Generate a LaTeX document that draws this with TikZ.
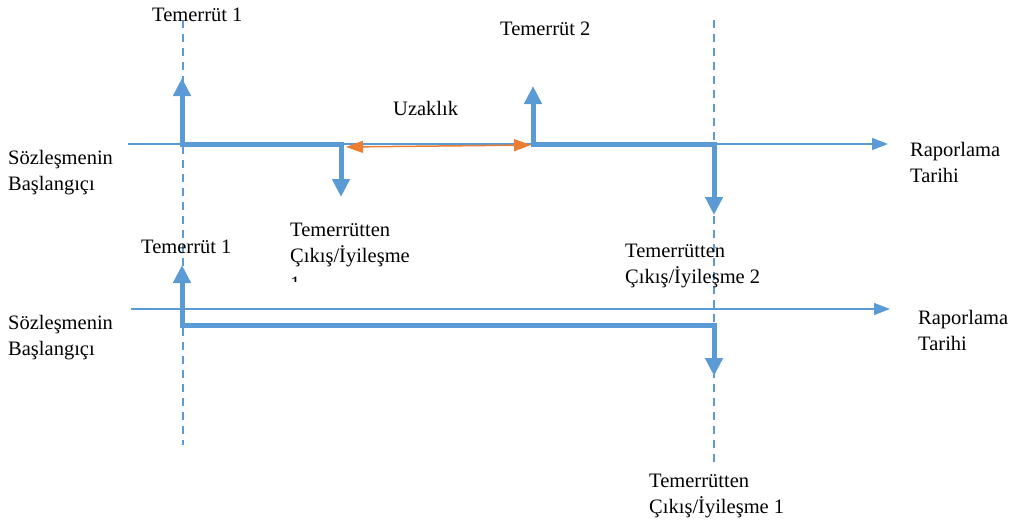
\documentclass[tikz,border=0pt]{standalone}
\usepackage{fontspec}
\setmainfont{Liberation Serif}
\usetikzlibrary{arrows.meta}
\definecolor{oblue}{HTML}{5B9BD5}
\definecolor{oorange}{HTML}{ED7D31}
\begin{document}
\begin{tikzpicture}[x=1pt,y=-1pt,
  lbl/.style={anchor=base west,inner sep=0pt,align=left,font=\fontsize{20.5}{26}\selectfont},
  axisline/.style={draw=oblue,line width=1.3pt,-{Triangle[width=12pt,length=16pt]}},
  guide/.style={draw=oblue,line width=1.3pt,dash pattern=on 8pt off 6pt},
  thick path/.style={draw=oblue,line width=5pt},
  thick arrow/.style={draw=oblue,line width=5pt,-{Triangle[width=17pt,length=18pt]}},
  gap/.style={draw=oorange,line width=1.5pt,{Triangle[width=12pt,length=17pt]}-{Triangle[width=12pt,length=17pt]}}]
\useasboundingbox (0,0) rectangle (1016,525);
% coordinates
\coordinate (g1t) at (183,20);  \coordinate (g1b) at (183,445);
\coordinate (g2t) at (714,20);  \coordinate (g2b) at (714,462);
\coordinate (a1s) at (128,144);  \coordinate (a1e) at (888,144);
\coordinate (a2s) at (131,309);  \coordinate (a2e) at (890,309);
\coordinate (p1) at (182,144); \coordinate (p1u) at (182,78);
\coordinate (p2) at (341,144); \coordinate (p2d) at (341,197);
\coordinate (p3) at (533,144); \coordinate (p3u) at (533,86);
\coordinate (p4) at (714,144); \coordinate (p4d) at (714,215);
\coordinate (o1) at (346,147); \coordinate (o2) at (531,145);
\coordinate (q1) at (182,325); \coordinate (q1u) at (182,265);
\coordinate (q2) at (714,325); \coordinate (q2d) at (714,376);
% guides and axes
\draw[guide] (g1t) -- (g1b);
\draw[guide] (g2t) -- (g2b);
\draw[axisline] (a1s) -- (a1e);
\draw[axisline] (a2s) -- (a2e);
% top panel
\draw[thick arrow] ([yshift=2.5pt]p1) -- (p1u);
\draw[thick path,line cap=rect] (p1) -- (p2);
\draw[thick arrow] ([yshift=-2.5pt]p2) -- (p2d);
\draw[gap] (o1) -- (o2);
\draw[thick arrow] ([yshift=2.5pt]p3) -- (p3u);
\draw[thick path,line cap=rect] (p3) -- (p4);
\draw[thick arrow] ([yshift=-2.5pt]p4) -- (p4d);
% bottom panel
\draw[thick arrow] ([yshift=2.5pt]q1) -- (q1u);
\draw[thick path,line cap=rect] (q1) -- (q2);
\draw[thick arrow] ([yshift=-2.5pt]q2) -- (q2d);
% labels
\node[lbl] (t1a) at (152,21) {Temerrüt 1};
\node[lbl] (t2) at (500,35) {Temerrüt 2};
\node[lbl] (uz) at (393,115) {Uzaklık};
\node[lbl] (sb1) at (8,190) {Sözleşmenin\\Başlangıçı};
\node[lbl] (rt1) at (910,182) {Raporlama\\Tarihi};
\node[lbl] (tc1) at (290,262) {Temerrütten\\Çıkış/İyileşme};
\begin{scope}
\clip (285,270) rectangle (320,281);
\node[lbl] (tc1n) at (290,290) {1};
\end{scope}
\node[lbl] (t1b) at (141,253) {Temerrüt 1};
\node[lbl] (tc2) at (625,283) {Temerrütten\\Çıkış/İyileşme 2};
\node[lbl] (sb2) at (8,355) {Sözleşmenin\\Başlangıçı};
\node[lbl] (rt2) at (918,350) {Raporlama\\Tarihi};
\node[lbl] (tc3) at (649,513) {Temerrütten\\Çıkış/İyileşme 1};
\end{tikzpicture}
\end{document}
